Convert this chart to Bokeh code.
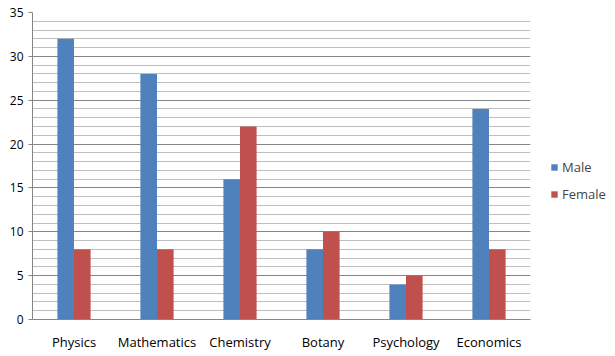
from bokeh.plotting import figure
from bokeh.models import (FactorRange, Range1d, SingleIntervalTicker, Legend, LegendItem)
from bokeh.transform import dodge
from bokeh.embed import file_html
from bokeh.resources import INLINE
from bokeh.models import ColumnDataSource

subjects = ["Physics", "Mathematics", "Chemistry", "Botany", "Psychology", "Economics"]
male = [32, 28, 16, 8, 4, 24]
female = [8, 8, 22, 10, 5, 8]

src = ColumnDataSource(dict(subject=subjects, male=male, female=female))

FONT = "Open Sans"

p = figure(x_range=FactorRange(factors=subjects, range_padding=0),
           y_range=Range1d(0, 35),
           frame_width=498, frame_height=307,
           width=607, height=348,
           min_border_left=32, min_border_top=12, min_border_right=77, min_border_bottom=29,
           output_backend="svg", toolbar_location=None)

r1 = p.vbar(x=dodge("subject", -0.1, range=p.x_range), top="male", width=0.2,
            source=src, color="#4F81BD", line_color=None)
r2 = p.vbar(x=dodge("subject", 0.1, range=p.x_range), top="female", width=0.2,
            source=src, color="#C0504D", line_color=None)

p.outline_line_color = None
p.background_fill_color = "white"
p.border_fill_color = "white"

ticker = SingleIntervalTicker(interval=5, num_minor_ticks=5)
p.yaxis.ticker = ticker
p.ygrid.ticker = ticker
p.ygrid.grid_line_color = "#868686"
p.ygrid.minor_grid_line_color = "#BEBEBE"
p.xgrid.grid_line_color = None

p.yaxis.axis_line_color = "#868686"
p.yaxis.major_tick_line_color = "#868686"
p.yaxis.major_tick_out = 4
p.yaxis.major_tick_in = 0
p.yaxis.minor_tick_line_color = None
p.yaxis.major_label_text_font = FONT
p.yaxis.major_label_text_font_size = "12px"
p.yaxis.major_label_text_color = "black"
p.yaxis.major_label_standoff = 5

p.xaxis.axis_line_color = "#868686"
p.xaxis.major_tick_line_color = None
p.xaxis.minor_tick_line_color = None
p.xaxis.major_label_text_font = FONT
p.xaxis.major_label_text_font_size = "13px"
p.xaxis.major_label_text_color = "black"
p.xaxis.major_label_standoff = 7

legend = Legend(items=[LegendItem(label="Male", renderers=[r1]),
                       LegendItem(label="Female", renderers=[r2])],
                location=(20, 115), margin=0, padding=0, spacing=7,
                glyph_width=8, glyph_height=8, label_height=20,
                label_standoff=4, border_line_color=None,
                background_fill_alpha=0,
                label_text_font=FONT, label_text_font_size="13px")
p.add_layout(legend, "right")

open("out.html", "w").write(file_html(p, INLINE))
